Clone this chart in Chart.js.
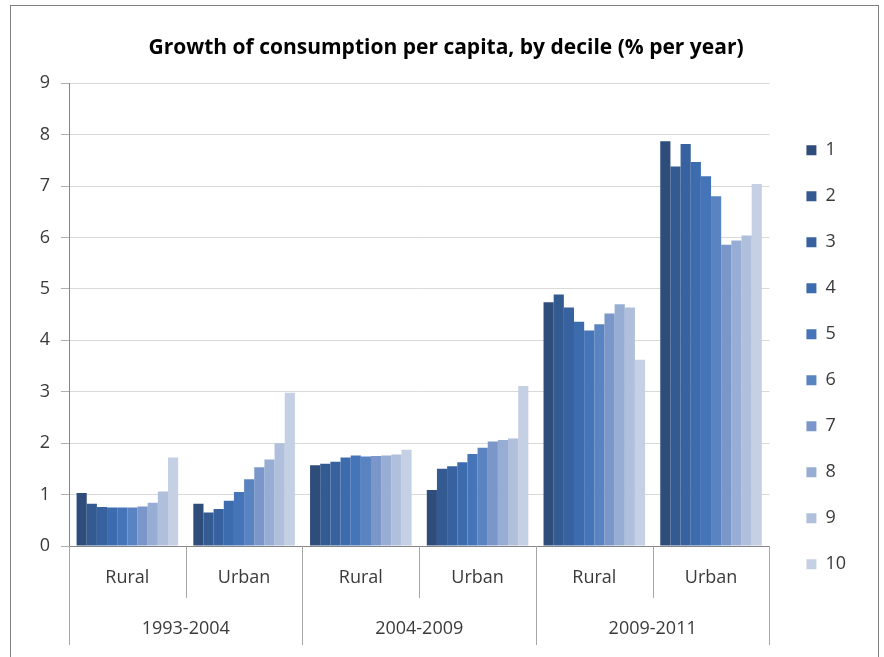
<!DOCTYPE html>
<html>
<head>
<meta charset="utf-8">
<script src="https://cdn.jsdelivr.net/npm/chart.js@4/dist/chart.umd.min.js"></script>
<style>
  html, body { margin: 0; padding: 0; background: #fff; }
  #wrap { width: 884px; height: 657px; }
</style>
</head>
<body>
<div id="wrap"><canvas id="chart" width="884" height="657"></canvas></div>
<script>
// Annual growth of consumption per capita (%), by decile, for each area and period
const periods = ['1993-2004', '2004-2009', '2009-2011'];
const areas = ['Rural', 'Urban', 'Rural', 'Urban', 'Rural', 'Urban'];
const deciles = ['1', '2', '3', '4', '5', '6', '7', '8', '9', '10'];

const decile1  = [1.03, 0.82, 1.57, 1.09, 4.74, 7.87];
const decile2  = [0.82, 0.65, 1.60, 1.50, 4.89, 7.38];
const decile3  = [0.76, 0.72, 1.64, 1.55, 4.64, 7.82];
const decile4  = [0.75, 0.88, 1.72, 1.63, 4.36, 7.47];
const decile5  = [0.75, 1.05, 1.76, 1.79, 4.19, 7.19];
const decile6  = [0.75, 1.30, 1.74, 1.91, 4.31, 6.80];
const decile7  = [0.77, 1.53, 1.75, 2.03, 4.52, 5.86];
const decile8  = [0.84, 1.68, 1.76, 2.06, 4.70, 5.94];
const decile9  = [1.06, 2.00, 1.78, 2.09, 4.64, 6.04];
const decile10 = [1.72, 2.98, 1.87, 3.11, 3.62, 7.04];

const yMin = 0;
const yMax = 9;
const yStep = 1;

const seriesValues = [decile1, decile2, decile3, decile4, decile5,
                      decile6, decile7, decile8, decile9, decile10];
const shades = ['#2e4d7b', '#335a91', '#37629f', '#3c6bae', '#4574b9',
                '#5a84c1', '#7b97c9', '#97add3', '#afbfdc', '#c6d0e4'];

const labelFont = { family: 'Open Sans', size: 18 };
const textColor = '#3a3a3a';

// White page with a thin grey frame around the whole figure
const frame = {
  id: 'frame',
  beforeDraw(chart) {
    const ctx = chart.ctx;
    ctx.save();
    ctx.fillStyle = '#ffffff';
    ctx.fillRect(0, 0, chart.width, chart.height);
    ctx.strokeStyle = '#808080';
    ctx.lineWidth = 1;
    ctx.strokeRect(10.5, 5.5, 868, 700);
    ctx.restore();
  }
};

// Second level of the category axis: separators and the period names
const periodAxis = {
  id: 'periodAxis',
  afterDraw(chart) {
    const xs = chart.scales.x;
    const ctx = chart.ctx;
    const half = (xs.getPixelForValue(1) - xs.getPixelForValue(0)) / 2;
    ctx.save();
    ctx.strokeStyle = '#a6a6a6';
    ctx.lineWidth = 1;
    for (let i = 0; i <= areas.length; i++) {
      const px = i < areas.length ? xs.getPixelForValue(i) - half
                                  : xs.getPixelForValue(i - 1) + half;
      const x = Math.round(px) + 0.5;
      const bottom = i % 2 === 0 ? xs.bottom - 5 : xs.top + 52;
      ctx.beginPath();
      ctx.moveTo(x, xs.top);
      ctx.lineTo(x, bottom);
      ctx.stroke();
    }
    ctx.fillStyle = textColor;
    ctx.font = labelFont.size + 'px "' + labelFont.family + '"';
    ctx.textAlign = 'center';
    ctx.textBaseline = 'middle';
    periods.forEach((p, k) => {
      const cx = (xs.getPixelForValue(2 * k) + xs.getPixelForValue(2 * k + 1)) / 2;
      ctx.fillText(p, cx, xs.top + 83);
    });
    ctx.restore();
  }
};

new Chart(document.getElementById('chart'), {
  type: 'bar',
  data: {
    labels: areas,
    datasets: deciles.map((d, i) => ({
      label: d,
      data: seriesValues[i],
      backgroundColor: shades[i],
      borderWidth: 0,
      categoryPercentage: 0.87,
      barPercentage: 1.0
    }))
  },
  options: {
    responsive: false,
    devicePixelRatio: 1,
    animation: false,
    layout: { padding: { left: 36, right: 28, top: 5, bottom: 7 } },
    plugins: {
      title: {
        display: true,
        text: 'Growth of consumption per capita, by decile (% per year)',
        color: '#000000',
        font: { family: 'Open Sans', size: 21, weight: 'bold' },
        padding: { top: 30, bottom: 23 }
      },
      legend: {
        position: 'right',
        align: 'center',
        // empty title lowers the key so it sits beside the bars
        title: { display: true, text: '', padding: { top: 45, bottom: 0 } },
        labels: {
          boxWidth: 10,
          boxHeight: 10,
          padding: 28,
          color: textColor,
          font: labelFont
        }
      },
      tooltip: { enabled: false }
    },
    scales: {
      x: {
        type: 'category',
        grid: { display: false, drawTicks: false },
        border: { display: true, color: '#868686' },
        ticks: {
          color: textColor,
          font: labelFont,
          padding: 21,
          maxRotation: 0,
          autoSkip: false
        },
        afterFit(scale) { scale.height = 104; }
      },
      y: {
        min: yMin,
        max: yMax,
        ticks: {
          stepSize: yStep,
          padding: 11,
          color: textColor,
          font: labelFont
        },
        grid: { color: '#d9d9d9', tickLength: 8, tickColor: '#b0b0b0' },
        border: { color: '#868686' },
        afterFit(scale) { scale.width = 33; }
      },
      gap: {
        type: 'linear',
        position: 'right',
        ticks: { display: false },
        grid: { display: false, drawTicks: false },
        border: { display: false },
        afterFit(scale) { scale.width = 9; }
      }
    }
  },
  plugins: [frame, periodAxis]
});
</script>
</body>
</html>
